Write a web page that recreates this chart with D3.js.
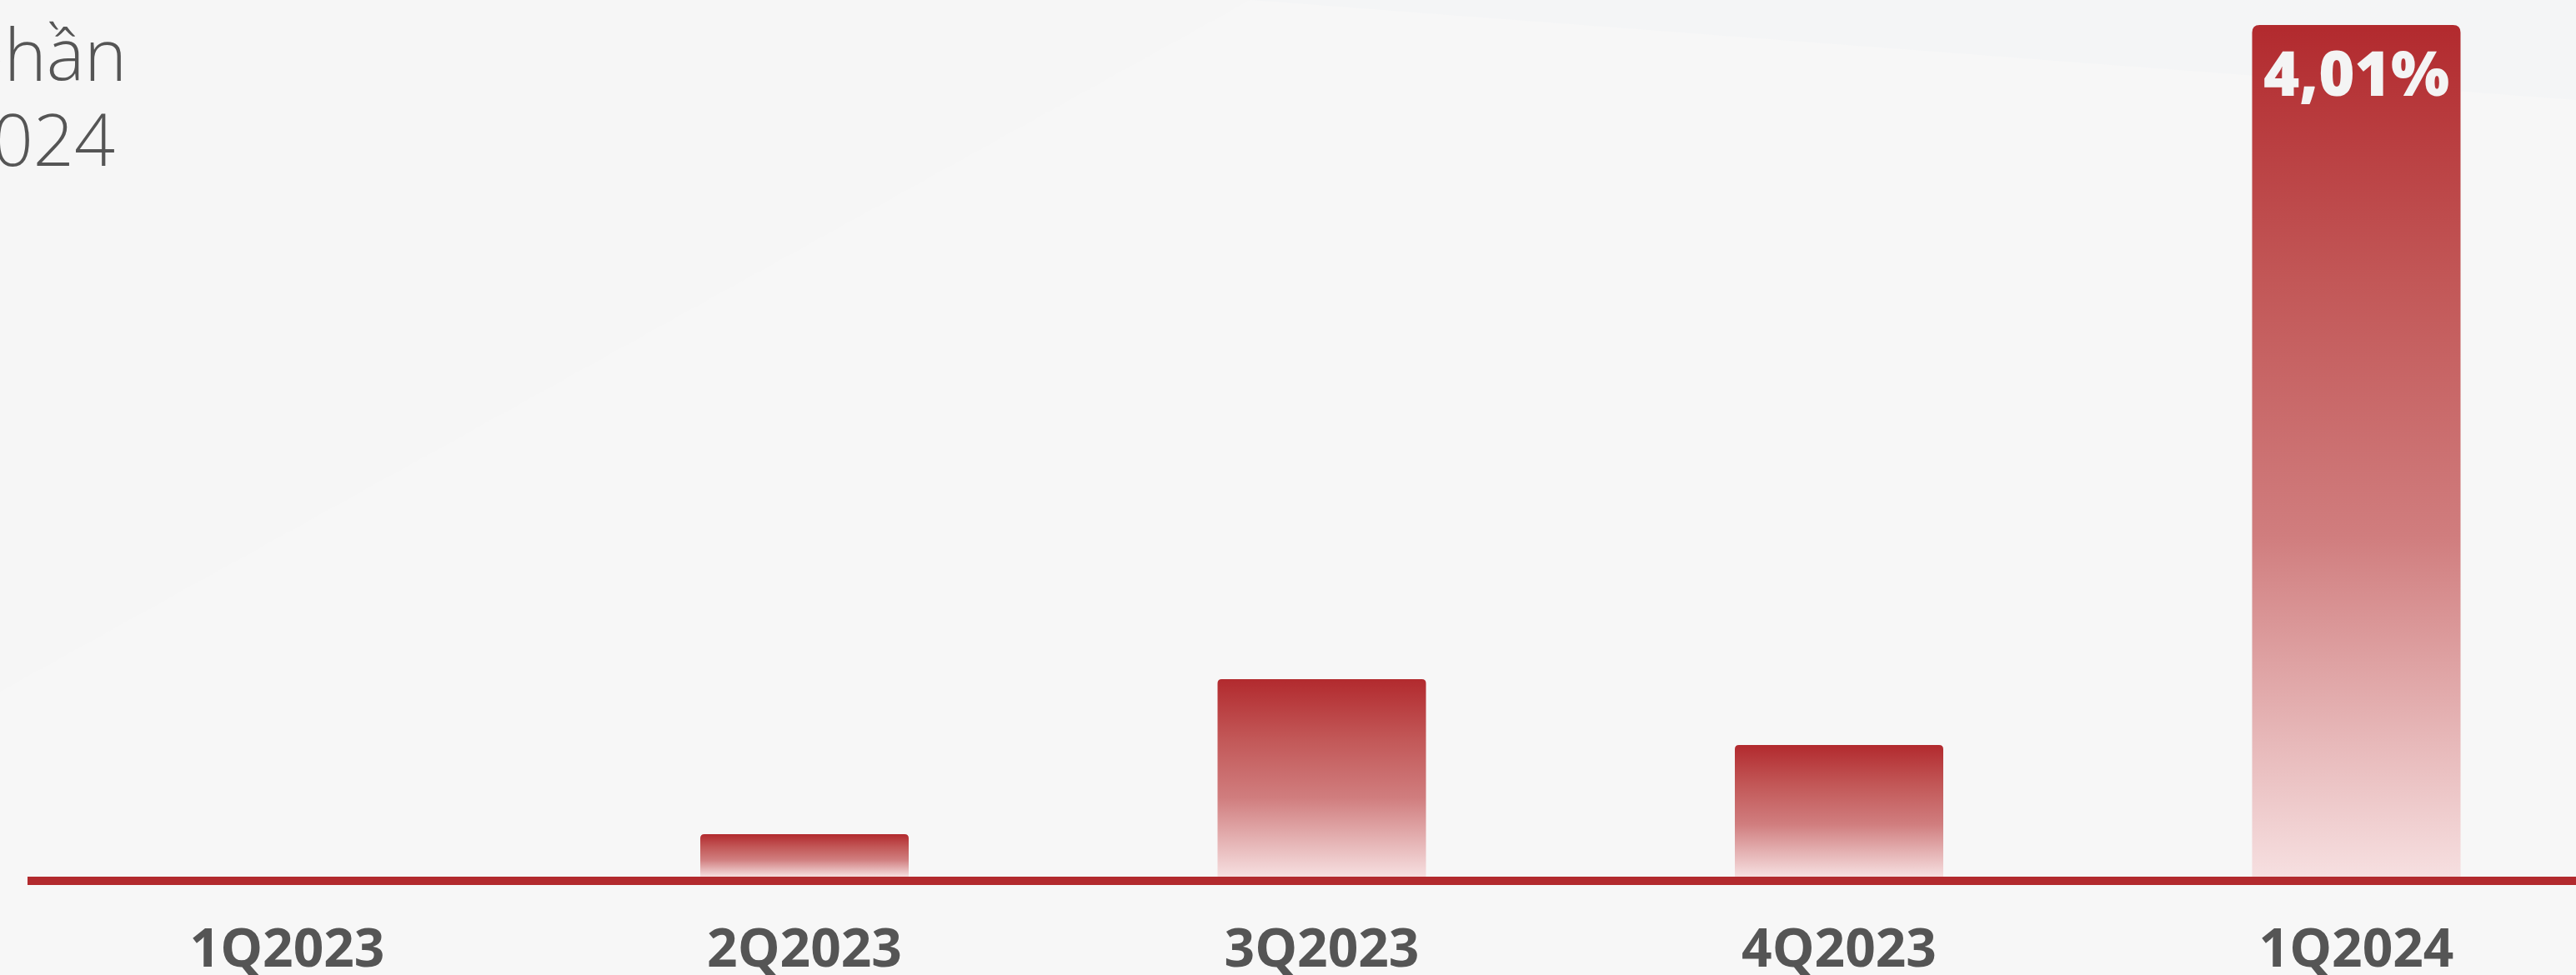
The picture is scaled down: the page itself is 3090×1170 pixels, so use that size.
<!DOCTYPE html>
<html>
<head>
<meta charset="utf-8">
<script src="https://cdn.jsdelivr.net/npm/d3@7"></script>
<style>
  html, body { margin: 0; padding: 0; background: #f6f6f6; }
  svg { display: block; }
</style>
</head>
<body>
<svg id="chart" width="3090" height="1170"></svg>
<script>
const width = 3090;
const height = 1170;

// data
const quarters = ["1Q2023", "2Q2023", "3Q2023", "4Q2023", "1Q2024"];
const ratios = [0, 0.2, 0.93, 0.62, 4.01];
const titleLines = ["cổ phần", "2024"];

const red = "#b22a2e";
const textGrey = "#555555";
const baseline = 1052;
const barWidth = 250;

const svg = d3.select("#chart");

// Background
svg.append("rect").attr("width", width).attr("height", height).attr("fill", "#f6f6f6");
svg.append("path")
  .attr("d", "M0,830 L1500,0 L3090,0 L3090,1170 L0,1170 Z")
  .attr("fill", "#f7f7f7");
svg.append("path")
  .attr("d", "M1500,0 L3090,0 L3090,120 Z")
  .attr("fill", "#f4f5f6");

// Gradient
const defs = svg.append("defs");
const grad = defs.append("linearGradient")
  .attr("id", "barGrad")
  .attr("x1", 0).attr("y1", 0).attr("x2", 0).attr("y2", 1);
grad.append("stop").attr("offset", "0%").attr("stop-color", "#b22a2e");
grad.append("stop").attr("offset", "30%").attr("stop-color", "#c25757");
grad.append("stop").attr("offset", "60%").attr("stop-color", "#d07d7e");
grad.append("stop").attr("offset", "100%").attr("stop-color", "#f6dfe0");

// Scales
const x = d3.scalePoint().domain(quarters).range([344.5, 2826.5]);
const y = d3.scaleLinear().domain([0, d3.max(ratios)]).range([baseline, 30]);

// Title (cut off at the left edge)
svg.append("g")
  .selectAll("text")
  .data(titleLines)
  .enter()
  .append("text")
  .attr("x", (d, i) => (i === 0 ? 152 : 138))
  .attr("y", (d, i) => 97 + i * 102)
  .attr("text-anchor", "end")
  .attr("font-family", "'Open Sans', sans-serif")
  .attr("font-weight", 300)
  .attr("font-size", 86)
  .attr("fill", textGrey)
  .text((d) => d);

// Bars with rounded top corners
function barPath(cx, top, bottom, w, r) {
  const x0 = cx - w / 2;
  const x1 = cx + w / 2;
  const h = bottom - top;
  if (h <= 0) return "";
  r = Math.min(r, h);
  return `M${x0},${bottom} L${x0},${top + r} Q${x0},${top} ${x0 + r},${top} ` +
    `L${x1 - r},${top} Q${x1},${top} ${x1},${top + r} L${x1},${bottom} Z`;
}

svg.append("g")
  .selectAll("path")
  .data(ratios)
  .enter()
  .append("path")
  .attr("d", (d, i) => barPath(x(quarters[i]), y(d), baseline, barWidth, d > 2 ? 9 : 5))
  .attr("fill", "url(#barGrad)");

// Axis line
svg.append("rect")
  .attr("x", 33)
  .attr("y", baseline)
  .attr("width", width - 33)
  .attr("height", 10)
  .attr("fill", red);

// Category labels
svg.append("g")
  .selectAll("text")
  .data(quarters)
  .enter()
  .append("text")
  .attr("x", (d) => x(d))
  .attr("y", 1160)
  .attr("text-anchor", "middle")
  .attr("font-family", "'Open Sans', sans-serif")
  .attr("font-weight", 700)
  .attr("font-size", 64)
  .attr("fill", textGrey)
  .text((d) => d);

// Value label on the highest bar
const maxIdx = ratios.indexOf(d3.max(ratios));
svg.append("text")
  .attr("x", x(quarters[maxIdx]))
  .attr("y", y(ratios[maxIdx]) + 85)
  .attr("text-anchor", "middle")
  .attr("font-family", "'Open Sans', sans-serif")
  .attr("font-weight", 800)
  .attr("font-size", 74)
  .attr("fill", "#f4f4f4")
  .text(ratios[maxIdx].toFixed(2).replace(".", ",") + "%");
</script>
</body>
</html>
